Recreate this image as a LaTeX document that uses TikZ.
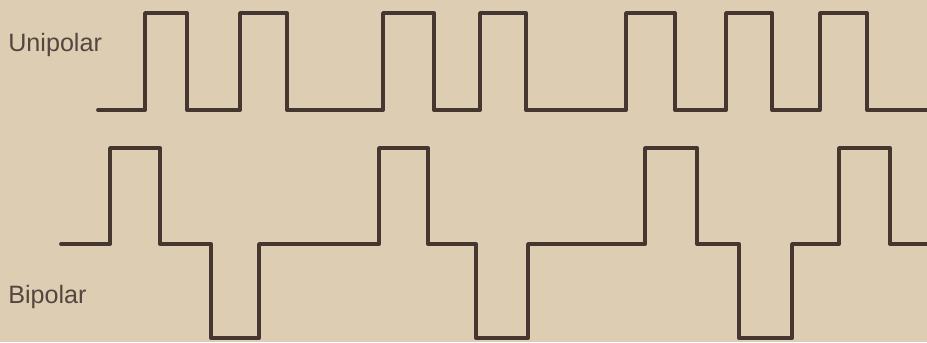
\documentclass[tikz,border=0pt]{standalone}
\usepackage{fontspec}
\setmainfont{Liberation Sans}
\usetikzlibrary{calc, positioning}

\definecolor{paper}{HTML}{DCCDB3}
\definecolor{waveink}{HTML}{45372F}
\definecolor{labelink}{HTML}{54463F}

\tikzset{
  wave/.style={draw=waveink, line width=2.2pt, line join=round, line cap=round},
  levellabel/.style={text=labelink, font=\fontsize{14.3}{17}\selectfont, anchor=west, inner sep=0pt}
}

\begin{document}
\begin{tikzpicture}[x=0.02cm, y=-0.02cm]
\def\uhi{13}
\def\ulo{110}
\def\bhi{148}
\def\bmid{244}
\def\blo{338}

\fill[paper] (0,0) rectangle (927,342);
\useasboundingbox (0,0) rectangle (927,342);

\node[levellabel] (unilabel) at (8,45) {Unipolar};
\node[levellabel] (bilabel) at (8,297) {Bipolar};

% unipolar line
\draw[wave] (98,\ulo) -| (145,\uhi) -| (187,\ulo) -| (240,\uhi) -| (287,\ulo)
  -| (383,\uhi) -| (434,\ulo) -| (480,\uhi) -| (526,\ulo) -| (626,\uhi)
  -| (675,\ulo) -| (726,\uhi) -| (772,\ulo) -| (820,\uhi) -| (867,\ulo) -- (927,\ulo);

% bipolar line
\draw[wave] (61,\bmid) -| (110,\bhi) -| (160,\bmid) -| (211,\blo) -| (259,\bmid)
  -| (379,\bhi) -| (428,\bmid) -| (476,\blo) -| (528,\bmid) -| (645,\bhi)
  -| (697,\bmid) -| (739,\blo) -| (792,\bmid) -| (839,\bhi) -| (890,\bmid) -- (927,\bmid);
\end{tikzpicture}
\end{document}
